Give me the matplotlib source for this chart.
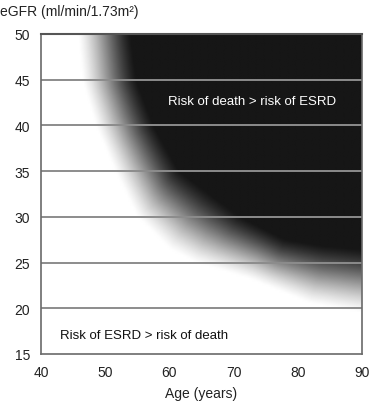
import numpy as np
import matplotlib
matplotlib.use("Agg")
import matplotlib.pyplot as plt
from matplotlib.colors import LinearSegmentedColormap

plt.rcParams['font.family'] = ['Liberation Sans', 'DejaVu Sans']

# Edges of the white-to-black transition
white_edge_age = [45.5, 46.4, 48.5, 51.5, 55.0, 60.0, 64.0, 72.5, 82.0, 90.0, 95.0]
white_edge_egfr = [52.0, 45.0, 40.0, 35.0, 30.0, 26.5, 25.0, 23.2, 20.5, 19.5, 19.2]
dark_edge_age = [53.5, 54.8, 57.5, 61.5, 71.0, 78.0, 84.0, 90.0, 95.0]
dark_edge_egfr = [52.0, 45.0, 40.0, 35.0, 30.0, 27.5, 26.8, 26.4, 26.2]

x_ticks = [40, 50, 60, 70, 80, 90]
y_ticks = [15, 20, 25, 30, 35, 40, 45, 50]
grid_levels = [20, 25, 30, 35, 40, 45]

label_upper = "Risk of death > risk of ESRD"
label_lower = "Risk of ESRD > risk of death"

fig = plt.figure(figsize=(3.70, 4.02), dpi=100)
ax = fig.add_axes([41/370, 47/402, 321/370, 320/402])
ax.set_xlim(40, 90)
ax.set_ylim(15, 50)

sx = 321/50.0
sy = 320/35.0
ages = np.linspace(40, 90, 200)
egfrs = np.linspace(15, 50, 180)
A, E = np.meshgrid(ages, egfrs)
PX = A*sx
PY = E*sy


def dist_to(xs, ys):
    bx = np.array(xs)*sx
    by = np.array(ys)*sy
    cx, cy = [], []
    for i in range(len(bx)-1):
        t = np.linspace(0, 1, 40, endpoint=False)
        cx.append(bx[i] + (bx[i+1]-bx[i])*t)
        cy.append(by[i] + (by[i+1]-by[i])*t)
    cx = np.concatenate(cx)
    cy = np.concatenate(cy)
    return np.sqrt((PX[..., None]-cx)**2 + (PY[..., None]-cy)**2).min(axis=-1)


dw = dist_to(white_edge_age, white_edge_egfr)
dd = dist_to(dark_edge_age, dark_edge_egfr)
w_at = np.interp(E, np.array(white_edge_egfr)[::-1], np.array(white_edge_age)[::-1])
d_at = np.interp(E, np.array(dark_edge_egfr)[::-1], np.array(dark_edge_age)[::-1])
val = dw/(dw+dd+1e-9)
val = np.where(A <= w_at, 0.0, val)
val = np.where(A >= d_at, 1.0, val)
val = np.clip(val, 0, 1)
val = 0.6*val + 0.4*val*val*(3-2*val)
cmap = LinearSegmentedColormap.from_list("bw", ["#ffffff", "#161616"])
ax.imshow(val, extent=[40, 90, 15, 50], origin='lower', aspect='auto',
          cmap=cmap, vmin=0, vmax=1, interpolation='bilinear', zorder=0)

for g in grid_levels:
    ax.axhline(g, color='#8c8c8c', lw=1.4, zorder=2)

for sp in ax.spines.values():
    sp.set_color('#6a6a6a')
    sp.set_linewidth(1.2)
ax.spines['top'].set_color('#555555')
ax.spines['top'].set_linewidth(1.5)

ax.set_xticks(x_ticks)
ax.set_yticks(y_ticks)
ax.tick_params(axis='y', length=0, labelsize=10, pad=8, colors='#222222')
ax.tick_params(axis='x', length=0, labelsize=10, pad=8, colors='#222222')
ax.set_xlabel("Age (years)", fontsize=10, labelpad=5, color='#222222')

fig.text(0.0, 0.97, "eGFR (ml/min/1.73m²)", fontsize=10, ha='left', va='center', color='#222222')

ax.text(72.9, 42.7, label_upper, color='white', fontsize=9.5, ha='center', va='center', zorder=3)
ax.text(43.0, 17.1, label_lower, color='#111111', fontsize=9.5, ha='left', va='center', zorder=3)

fig.savefig("out.png", dpi=100)
